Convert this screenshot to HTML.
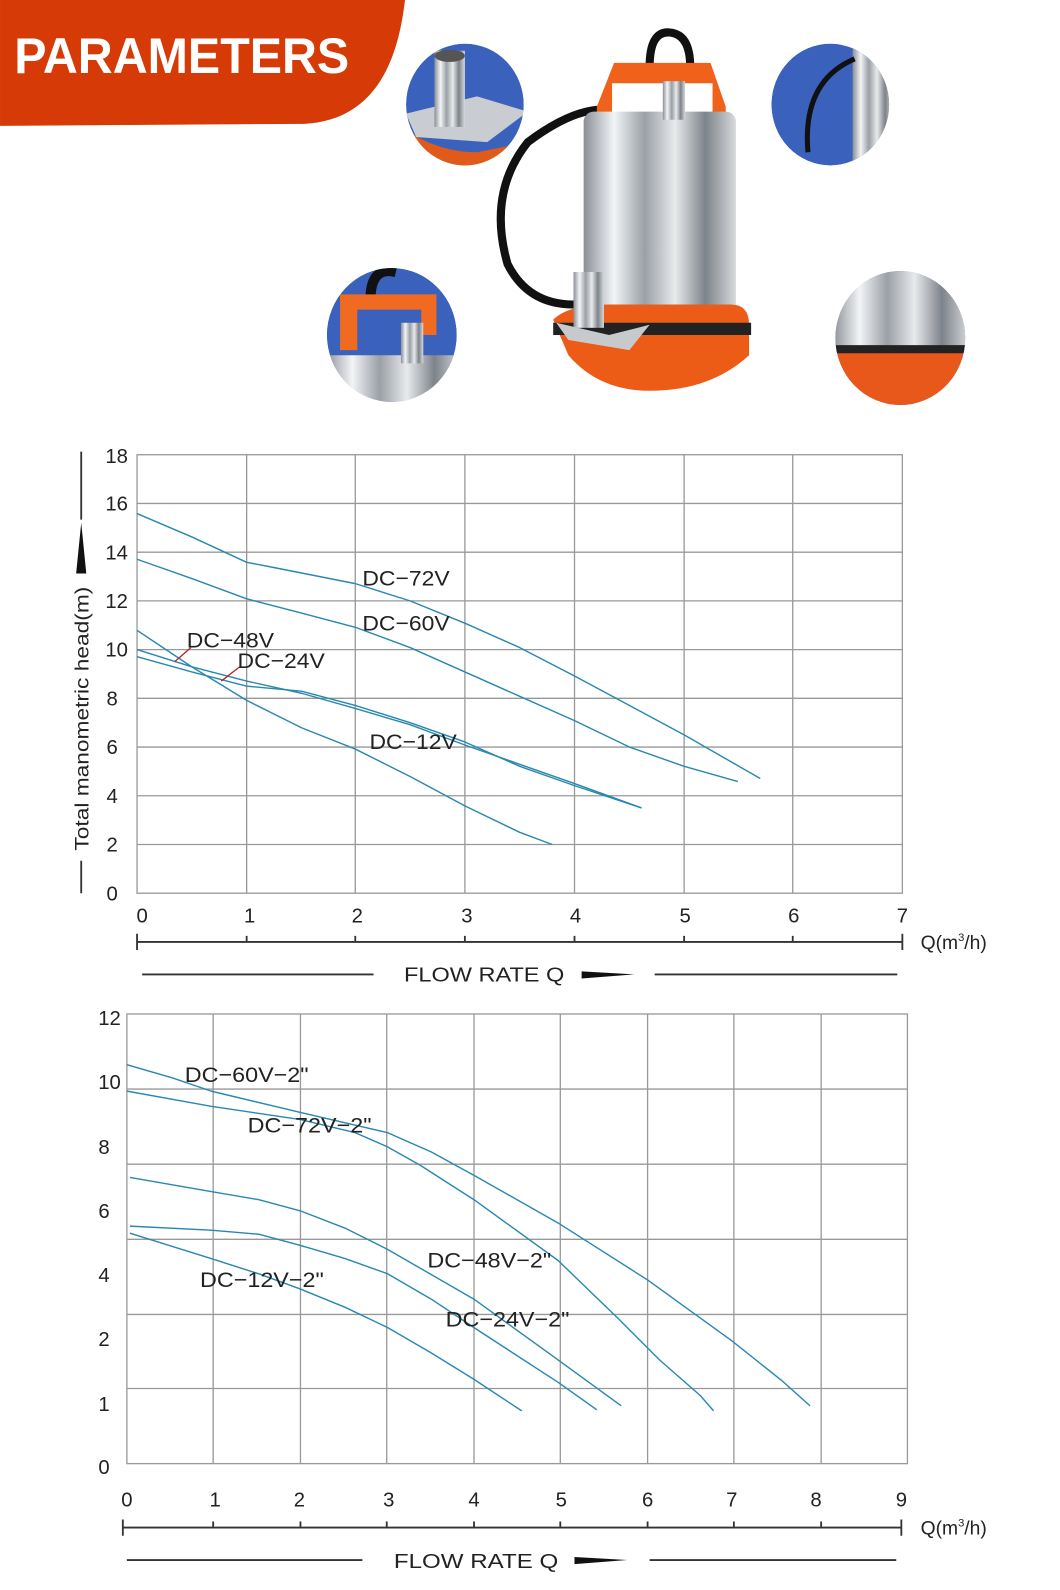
<!DOCTYPE html>
<html><head><meta charset="utf-8"><style>
html,body{margin:0;padding:0;background:#fff;}
svg{display:block;}
text{font-family:"Liberation Sans",sans-serif;}
</style></head><body>
<svg width="1060" height="1590" viewBox="0 0 1044.3 1566.5" xmlns="http://www.w3.org/2000/svg">
<rect x="0" y="0" width="1044.3" height="1566.5" fill="#fff"/>
<path d="M0 0 H399 C392 60 370 118 300 122 L0 124 Z" fill="#d63a06"/>
<text x="14" y="72" font-size="49" font-weight="bold" fill="#fff" textLength="330" lengthAdjust="spacingAndGlyphs">PARAMETERS</text>

<defs>
<linearGradient id="steel" x1="0" x2="1">
<stop offset="0" stop-color="#8a8f96"/><stop offset="0.2" stop-color="#f2f4f6"/><stop offset="0.4" stop-color="#9aa0a6"/><stop offset="0.6" stop-color="#e8eaec"/><stop offset="0.8" stop-color="#7d838a"/><stop offset="1" stop-color="#d8dadc"/>
</linearGradient>
<clipPath id="c1"><ellipse cx="458" cy="103" rx="58" ry="60"/></clipPath>
<clipPath id="c2"><ellipse cx="818" cy="103" rx="58" ry="60"/></clipPath>
<clipPath id="c3"><ellipse cx="386" cy="330" rx="64" ry="66"/></clipPath>
<clipPath id="c4"><ellipse cx="887" cy="333" rx="64" ry="66"/></clipPath>
</defs>
<g clip-path="url(#c1)">
<ellipse cx="458" cy="103" rx="58" ry="60" fill="#3a62bd"/>
<path d="M395 125 Q430 150 470 150 L520 140 L520 170 L395 170 Z" fill="#e05a1a"/>
<path d="M400 112 L470 95 L520 110 L480 140 L410 135 Z" fill="#c9ccd0"/>
<rect x="428" y="50" width="30" height="75" fill="url(#steel)"/>
<ellipse cx="443" cy="55" rx="15" ry="6" fill="#555"/>
</g>
<g clip-path="url(#c2)">
<ellipse cx="818" cy="103" rx="58" ry="60" fill="#3a62bd"/>
<rect x="840" y="40" width="40" height="125" fill="url(#steel)"/>
<path d="M842 58 Q790 80 796 150" stroke="#111" stroke-width="5" fill="none"/>
</g>
<g clip-path="url(#c3)">
<ellipse cx="386" cy="330" rx="64" ry="66" fill="#3a62bd"/>
<path d="M365 295 Q365 262 390 268" stroke="#111" stroke-width="10" fill="none"/>
<path d="M335 290 H430 V330 H415 V305 H352 V345 H335 Z" fill="#f06a22"/>
<rect x="320" y="350" width="135" height="50" fill="url(#steel)"/>
<rect x="395" y="318" width="22" height="40" fill="url(#steel)"/>
</g>
<g clip-path="url(#c4)">
<ellipse cx="887" cy="333" rx="64" ry="66" fill="#3a62bd"/>
<rect x="820" y="262" width="135" height="85" fill="url(#steel)"/>
<path d="M820 345 H955 V400 H820 Z" fill="#e8581a"/>
<path d="M820 340 H955 V348 H820 Z" fill="#222"/>
</g>

<path d="M640 66 Q640 30 660 32 Q680 34 680 66" stroke="#111" stroke-width="8" fill="none"/>
<path d="M590 108 Q560 110 520 140 Q480 190 500 260 Q520 300 565 300" stroke="#111" stroke-width="8" fill="none"/>
<path d="M588 105 L605 62 H700 L715 105 V120 H702 V82 H603 V120 H588 Z" fill="#f0621c"/>
<rect x="575" y="110" width="150" height="210" rx="10" fill="url(#steel)"/>
<rect x="653" y="80" width="22" height="38" fill="url(#steel)"/>
<path d="M545 315 Q560 300 600 300 H720 Q738 300 738 320 V350 Q700 385 640 385 Q590 385 560 350 Z" fill="#ec5c16"/>
<path d="M545 318 H740 V330 H545 Z" fill="#222"/>
<rect x="565" y="268" width="30" height="55" fill="url(#steel)"/>
<path d="M548 318 L600 330 L640 320 L620 345 L560 335 Z" fill="#c7cacd"/>

<!-- CHART 1 -->
<g stroke="#999" stroke-width="1.3" fill="none">
<rect x="135" y="448" width="754" height="432"/>
<path d="M243 448V880 M350 448V880 M458 448V880 M566 448V880 M674 448V880 M781 448V880"/>
<path d="M135 496H889 M135 544H889 M135 592H889 M135 640H889 M135 688H889 M135 736H889 M135 784H889 M135 832H889"/>
</g>
<g font-size="20" fill="#222" text-anchor="end">
<text x="126" y="456">18</text><text x="126" y="503">16</text><text x="126" y="551">14</text>
<text x="126" y="599">12</text><text x="126" y="647">10</text><text x="116" y="695">8</text>
<text x="116" y="743">6</text><text x="116" y="791">4</text><text x="116" y="839">2</text><text x="116" y="887">0</text>
</g>
<g font-size="20" fill="#222" text-anchor="middle">
<text x="140" y="909">0</text><text x="246" y="909">1</text><text x="352" y="909">2</text><text x="460" y="909">3</text>
<text x="567" y="909">4</text><text x="675" y="909">5</text><text x="782" y="909">6</text><text x="889" y="909">7</text>
</g>
<g stroke="#333" stroke-width="1.8" fill="none">
<path d="M135 928H889 M135 920V936 M889 920V936 M243 922V928 M350 922V928 M458 922V928 M566 922V928 M674 922V928 M781 922V928"/>
<path d="M140 960H368 M645 960H884"/>
<path d="M80 445V512 M80 848V880"/>
</g>
<path d="M573 957 L625 960 L573 964 Z" fill="#111"/>
<path d="M75 565 L80 515 L85 565 Z" fill="#111"/>
<text x="907" y="935" font-size="19" fill="#222">Q(m<tspan font-size="11" dy="-8">3</tspan><tspan dy="8">/h)</tspan></text>
<text x="398" y="967" font-size="20" fill="#222" textLength="158" lengthAdjust="spacingAndGlyphs">FLOW  RATE Q</text>
<text transform="translate(87,838) rotate(-90)" font-size="19" fill="#222" textLength="260" lengthAdjust="spacingAndGlyphs">Total manometric head(m)</text>

<g stroke="#2a88b0" stroke-width="1.4" fill="none" stroke-linejoin="round">
<path d="M135 506 L189 529 L243 554 L264 558 L350 575 L404 592 L458 614 L512 638 L566 666 L620 695 L674 724 L749 767"/>
<path d="M135 551 L189 570 L243 590 L297 604 L350 618 L404 638 L458 662 L512 686 L566 710 L620 736 L674 755 L727 770"/>
<path d="M135 621 L189 657 L243 690 L297 717 L350 738 L404 765 L458 794 L512 820 L544 832"/>
<path d="M135 640 L189 657 L243 671 L297 683 L350 698 L404 714 L458 734 L512 753 L566 772 L632 796"/>
<path d="M135 647 L189 662 L243 676 L297 681 L350 695 L404 712 L458 731 L512 755 L566 774 L632 796"/>
</g>
<g stroke="#c0202a" stroke-width="1.3"><path d="M172 652 L188 638 M218 671 L236 657"/></g>
<g font-size="21" fill="#222">
<text x="357" y="577" textLength="86" lengthAdjust="spacingAndGlyphs">DC−72V</text><text x="357" y="621" textLength="86" lengthAdjust="spacingAndGlyphs">DC−60V</text>
<text x="184" y="638" textLength="86" lengthAdjust="spacingAndGlyphs">DC−48V</text><text x="234" y="658" textLength="86" lengthAdjust="spacingAndGlyphs">DC−24V</text>
<text x="364" y="738" textLength="86" lengthAdjust="spacingAndGlyphs">DC−12V</text>
</g>

<!-- CHART 2 -->
<g stroke="#999" stroke-width="1.3" fill="none">
<rect x="125" y="999" width="769" height="443"/>
<path d="M210 999V1442 M296 999V1442 M381 999V1442 M467 999V1442 M552 999V1442 M638 999V1442 M723 999V1442 M809 999V1442"/>
<path d="M125 1073H894 M125 1147H894 M125 1221H894 M125 1295H894 M125 1368H894"/>
</g>
<g font-size="20" fill="#222" text-anchor="end">
<text x="119" y="1010">12</text><text x="119" y="1073">10</text><text x="108" y="1137">8</text>
<text x="108" y="1200">6</text><text x="108" y="1263">4</text><text x="108" y="1326">2</text>
<text x="108" y="1390">1</text><text x="108" y="1452">0</text>
</g>
<g font-size="20" fill="#222" text-anchor="middle">
<text x="125" y="1484">0</text><text x="212" y="1484">1</text><text x="295" y="1484">2</text><text x="383" y="1484">3</text>
<text x="467" y="1484">4</text><text x="553" y="1484">5</text><text x="638" y="1484">6</text><text x="721" y="1484">7</text>
<text x="804" y="1484">8</text><text x="888" y="1484">9</text>
</g>
<g stroke="#333" stroke-width="1.8" fill="none">
<path d="M121 1505H888 M121 1497V1513 M888 1497V1513 M210 1499V1505 M296 1499V1505 M381 1499V1505 M467 1499V1505 M552 1499V1505 M638 1499V1505 M723 1499V1505 M809 1499V1505"/>
<path d="M125 1537H357 M640 1537H883"/>
</g>
<path d="M566 1534 L618 1537 L566 1541 Z" fill="#111"/>
<text x="907" y="1512" font-size="19" fill="#222">Q(m<tspan font-size="11" dy="-8">3</tspan><tspan dy="8">/h)</tspan></text>
<text x="388" y="1545" font-size="20" fill="#222" textLength="162" lengthAdjust="spacingAndGlyphs">FLOW  RATE Q</text>

<g stroke="#2a88b0" stroke-width="1.4" fill="none" stroke-linejoin="round">
<path d="M125 1049 L170 1062 L208 1075 L296 1096 L382 1116 L425 1135 L467 1158 L550 1205 L638 1261 L721 1321 L770 1360 L798 1385"/>
<path d="M125 1075 L208 1090 L296 1103 L350 1116 L382 1130 L414 1148 L467 1182 L550 1242 L609 1299 L650 1340 L690 1375 L703 1390"/>
<path d="M128 1160 L208 1174 L255 1182 L296 1193 L340 1210 L382 1231 L467 1280 L550 1340 L612 1385"/>
<path d="M128 1208 L208 1212 L255 1216 L296 1227 L340 1240 L382 1255 L425 1280 L467 1308 L550 1362 L588 1389"/>
<path d="M128 1215 L208 1240 L255 1255 L296 1270 L340 1288 L382 1308 L425 1333 L467 1359 L514 1390"/>
</g>
<g font-size="21" fill="#222">
<text x="182" y="1066" textLength="122" lengthAdjust="spacingAndGlyphs">DC−60V−2"</text><text x="244" y="1116" textLength="122" lengthAdjust="spacingAndGlyphs">DC−72V−2"</text>
<text x="421" y="1249" textLength="122" lengthAdjust="spacingAndGlyphs">DC−48V−2"</text><text x="197" y="1268" textLength="122" lengthAdjust="spacingAndGlyphs">DC−12V−2"</text>
<text x="439" y="1307" textLength="122" lengthAdjust="spacingAndGlyphs">DC−24V−2"</text>
</g>
</svg>
</body></html>
